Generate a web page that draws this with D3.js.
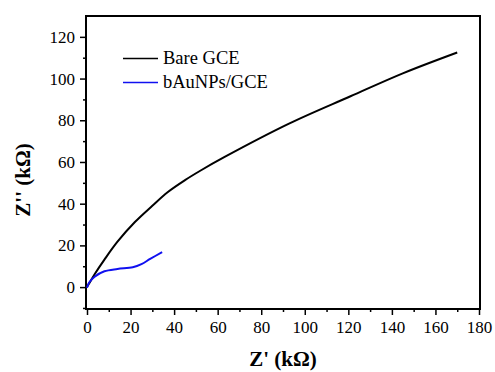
<!DOCTYPE html>
<html>
<head>
<meta charset="utf-8">
<script src="https://cdn.jsdelivr.net/npm/d3@7"></script>
<style>
  body { margin: 0; background: #fff; }
  svg text { font-family: "Liberation Serif", "Times New Roman", serif; fill: #000; }
</style>
</head>
<body>
<div id="chart"></div>
<script>
// Nyquist plots, Z' vs Z'' in kOhm
var bareGce = [[0, 0], [1, 1.8], [3.5, 6.2], [8, 13.2], [14, 21.8], [22, 31.2], [30, 39],
               [37, 45.5], [45, 51.3], [52, 55.8], [63, 62.3], [93, 78.5], [121, 91.5],
               [145, 102.5], [170, 112.5]];
var bAuNPs = [[0, -0.3], [1, 2.2], [3.5, 5], [8, 7.6], [14, 8.7], [21, 9.5], [25, 11],
              [29, 13.5], [34.5, 16.8]];
var seriesNames = ["Bare GCE", "bAuNPs/GCE"];
var seriesColors = ["#000000", "#1010f0"];
var xTicks = [0, 20, 40, 60, 80, 100, 120, 140, 160, 180];
var yTicks = [0, 20, 40, 60, 80, 100, 120];

// plot box edges (window.top is read-only, so use other names)
var boxL = 86, boxR = 480, boxT = 16, boxB = 309;

var svg = d3.select('#chart').append('svg')
  .attr('width', 495)
  .attr('height', 372);

var x = d3.scaleLinear().domain([0, 180]).range([boxL + 1, boxR - 1]);
var y = d3.scaleLinear().domain([-10.5, 130]).range([boxB, boxT]);

// minor ticks first, then the labelled major ticks
var xMinor = d3.range(10, 180, 20);
var yMinor = d3.range(-10, 130, 20);

function noDomain(g) {
  g.select('.domain').remove();
  g.attr('font-family', '"Liberation Serif", "Times New Roman", serif').attr('font-size', 17);
}

svg.append('g')
  .attr('transform', 'translate(0,' + boxB + ')')
  .call(d3.axisBottom(x).tickValues(xMinor).tickSize(3).tickFormat(''))
  .call(noDomain);

svg.append('g')
  .attr('transform', 'translate(' + boxL + ',0)')
  .call(d3.axisLeft(y).tickValues(yMinor).tickSize(3).tickFormat(''))
  .call(noDomain);

svg.append('g')
  .attr('transform', 'translate(0,' + boxB + ')')
  .call(d3.axisBottom(x).tickValues(xTicks).tickSize(6).tickPadding(6))
  .call(noDomain);

svg.append('g')
  .attr('transform', 'translate(' + boxL + ',0)')
  .call(d3.axisLeft(y).tickValues(yTicks).tickSize(6).tickPadding(5))
  .call(noDomain);

svg.selectAll('.tick line').attr('stroke', '#000').attr('stroke-width', 1.5);

// frame
svg.append('rect')
  .attr('x', boxL)
  .attr('y', boxT)
  .attr('width', boxR - boxL)
  .attr('height', boxB - boxT)
  .attr('fill', 'none')
  .attr('stroke', '#000')
  .attr('stroke-width', 2);

var line = d3.line()
  .x(function (d) { return x(d[0]); })
  .y(function (d) { return y(d[1]); })
  .curve(d3.curveCatmullRom.alpha(0.5));

[bareGce, bAuNPs].forEach(function (data, i) {
  svg.append('path')
    .datum(data)
    .attr('d', line)
    .attr('fill', 'none')
    .attr('stroke', seriesColors[i])
    .attr('stroke-width', 2)
    .attr('stroke-linejoin', 'round');
});

// legend
seriesNames.forEach(function (name, i) {
  var ly = 58.5 + i * 24;
  svg.append('line')
    .attr('x1', 123).attr('x2', 158)
    .attr('y1', ly).attr('y2', ly)
    .attr('stroke', seriesColors[i])
    .attr('stroke-width', 1.5);
  svg.append('text')
    .attr('x', 163)
    .attr('y', ly + 5)
    .attr('font-size', 18.5)
    .text(name);
});

// axis titles
svg.append('text')
  .attr('x', 283)
  .attr('y', 366)
  .attr('text-anchor', 'middle')
  .attr('font-size', 21)
  .attr('font-weight', 'bold')
  .text("Z' (kΩ)");

svg.append('text')
  .attr('transform', 'translate(30,180) rotate(-90)')
  .attr('text-anchor', 'middle')
  .attr('font-size', 21)
  .attr('font-weight', 'bold')
  .text("Z'' (kΩ)");
</script>
</body>
</html>
